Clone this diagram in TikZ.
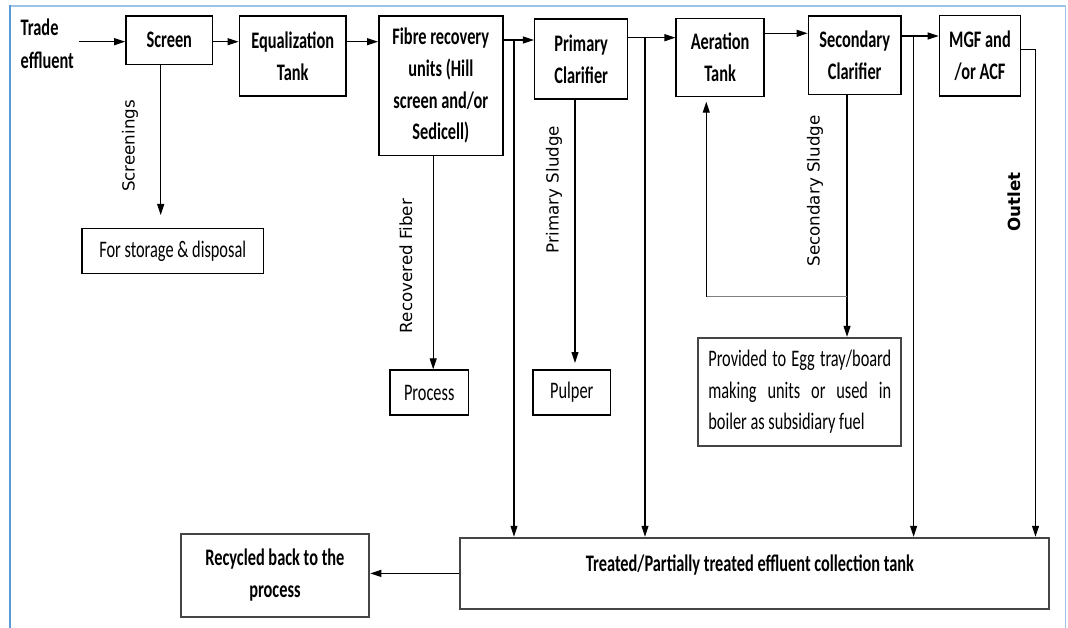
\documentclass[tikz,border=0pt]{standalone}
\usepackage{fontspec}
\setmainfont{Carlito}[FakeStretch=0.69]
\newfontfamily\labfont{DejaVu Sans}
\usetikzlibrary{arrows.meta}
\definecolor{frameblue}{HTML}{5B9BD5}
\definecolor{framelight}{HTML}{9DC3E6}
\definecolor{boxgray}{HTML}{454545}
\begin{document}
\begin{tikzpicture}[x=1pt,y=-1pt,
  every node/.style={font=\fontsize{23.7pt}{31.7pt}\selectfont, inner sep=0pt},
  box/.style={draw=black, line width=1.5pt, align=center},
  bbox/.style={box, font=\fontsize{23.7pt}{31.7pt}\selectfont\bfseries},
  gbox/.style={draw=boxgray, line width=2pt, align=center, font=\fontsize{23.7pt}{31.7pt}\selectfont\bfseries},
  conn/.style={line width=1.1pt},
  arr/.style={conn, -{Triangle[length=11pt,width=7pt]}},
  lab/.style={rotate=90, font=\labfont\fontsize{16.7pt}{20pt}\selectfont}
]
\useasboundingbox (0,0) rectangle (1068,628);
\fill[white] (0,0) rectangle (1068,628);
% frame
\draw[framelight, line width=1.3pt] (10,6) -- (1065.5,6) -- (1065.5,628);
\draw[frameblue, line width=2.2pt] (10,5.4) -- (10,628);

% text
\node[anchor=west, align=left, font=\fontsize{23.7pt}{33pt}\selectfont\bfseries] (trade) at (20.5,44) {Trade\\effluent};

% main boxes
\node[bbox, minimum width=86.7pt, minimum height=48.3pt] (screen) at (169.3,40.2) {Screen};
\node[bbox, minimum width=106.8pt, minimum height=80pt] (eq) at (292.7,56) {Equalization\\Tank};
\node[bbox, minimum width=124pt, minimum height=139.7pt] (fibre) at (440.8,85.8) {Fibre recovery\\units (Hill\\screen and/or\\Sedicell)};
\node[bbox, minimum width=93pt, minimum height=80pt] (primary) at (581.2,59) {Primary\\Clarifier};
\node[bbox, minimum width=87.8pt, minimum height=78.4pt] (aeration) at (720.1,57.5) {Aeration\\Tank};
\node[bbox, minimum width=92.6pt, minimum height=78.3pt] (secondary) at (854.7,55.2) {Secondary\\Clarifier};
\node[bbox, minimum width=81.1pt, minimum height=80.3pt] (mgf) at (980,55.8) {MGF and\\/or ACF};

% destination boxes
\node[box, minimum width=181.4pt, minimum height=45.4pt] (store) at (172.7,251) {For storage \& disposal};
\node[box, minimum width=78.2pt, minimum height=45pt] (process) at (429.2,392.5) {Process};
\node[box, minimum width=77.5pt, minimum height=45pt] (pulper) at (571.8,392.5) {Pulper};
\node[box, draw=boxgray, line width=1.8pt, minimum width=203pt, minimum height=108pt] (egg) at (799.8,391.7) {};
\node[align=justify, text width=183pt] (eggtext) at (egg.center) {\hyphenpenalty=10000 Provided to Egg tray/board\linebreak making units or used in\linebreak boiler as subsidiary fuel};

% bottom boxes
\node[gbox, minimum width=188.7pt, minimum height=82.7pt] (recycled) at (274.9,575.3) {Recycled back to the\\process};
\node[gbox, minimum width=589.2pt, minimum height=71.3pt] (tank) at (754.4,573.4) {};
\node[font=\fontsize{23.7pt}{31.7pt}\selectfont\bfseries] (tanktext) at (750,565.5) {Treated/Partially treated effluent collection tank};

% labels
\node[lab] (l1) at (130,146) {Screenings};
\node[lab] (l2) at (406,266) {Recovered Fiber};
\node[lab] (l3) at (554,189.5) {Primary Sludge};
\node[lab] (l4) at (815,191) {Secondary Sludge};
\node[lab, font=\labfont\bfseries\fontsize{16.7pt}{20pt}\selectfont] (l5) at (1014,202) {Outlet};

% levels and branch points
\coordinate (ya) at (0,41.7);
\coordinate (yf) at (0,40);
\coordinate (yb) at (0,37.7);
\coordinate (yc) at (0,33.3);
\coordinate (yd) at (0,36);
\coordinate (ye) at (0,49.3);
\coordinate (tin) at (79,41.7);
\coordinate (b1) at (514,40);
\coordinate (b2) at (645,37.7);
\coordinate (b3) at (913.6,36);
\coordinate (b4) at (1035.5,49.3);

% main flow
\draw[arr] (tin) -- (tin -| screen.west);
\draw[arr] (screen.east |- ya) -- (eq.west |- ya);
\draw[arr] (eq.east |- ya) -- (fibre.west |- ya);
\draw[arr] (fibre.east |- yf) -- (primary.west |- yf);
\draw[arr] (primary.east |- yb) -- (aeration.west |- yb);
\draw[arr] (aeration.east |- yc) -- (secondary.west |- yc);
\draw[arr] (secondary.east |- yd) -- (mgf.west |- yd);

% branches to collection tank
\draw[arr] (b1) -- (b1 |- tank.north);
\draw[arr] (b2) -- (b2 |- tank.north);
\draw[arr] (b3) -- (b3 |- tank.north);
\draw[arr] (mgf.east |- ye) -- (b4) -- (b4 |- tank.north);

% side streams
\coordinate (sx) at (160.7,215);
\draw[arr] (sx |- screen.south) -- (sx);
\coordinate (rx) at (433.2,0);
\draw[arr] (rx |- fibre.south) -- (rx |- process.north);
\coordinate (px) at (575,363);
\draw[arr] (px |- primary.south) -- (px);
\coordinate (qx) at (847,296.7);
\draw[arr] (qx |- secondary.south) -- (qx |- egg.north);
\coordinate (ax) at (706.3,101.7);
\draw[gray, line width=1.6pt] (qx) -- (ax |- qx);
\draw[arr] (ax |- qx) -- (ax);

% recycle
\draw[arr] (tank.west) -- (tank.west -| recycled.east);
\end{tikzpicture}
\end{document}
